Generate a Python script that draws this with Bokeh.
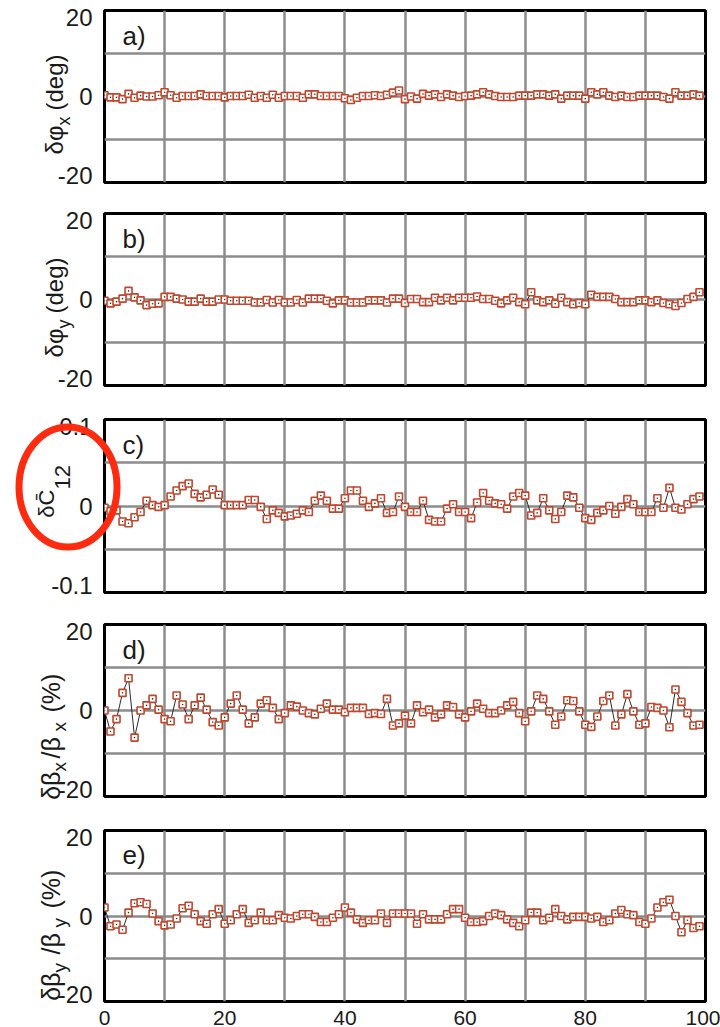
import math
from bokeh.plotting import figure
from bokeh.layouts import column
from bokeh.models import Range1d, FixedTicker, Grid, Label, GridBox
from bokeh.embed import file_html
from bokeh.resources import INLINE

# ---------------- data ----------------
x_index = list(range(100))

dphi_x = [0.3, -0.2, -0.2, -0.6, 0.6, -0.3, 0.2, 0, 0, 0.3,
          1.0, 0.3, -0.3, 0.1, 0.1, 0.1, 0.5, 0.1, 0.1, 0.1,
          -0.2, 0.1, 0.1, 0.1, 0.4, -0.3, 0.1, -0.3, 0.4, -0.3,
          0.1, 0.1, 0.1, -0.3, 0.5, 0.5, 0.1, 0.1, 0.1, 0.1,
          -0.4, -0.8, -0.3, 0.1, 0.1, 0.3, 0.1, 0.4, 0.9, 1.4,
          -0.6, 0, -0.5, 0.6, 0.2, 0.5, -0.1, 0.5, 0.2, -0.1,
          0.1, 0.2, 0.5, 1.0, 0.5, 0.1, -0.1, -0.1, -0.1, 0.2,
          0.2, 0.2, 0.5, 0.5, 0.2, 0.5, -0.5, 0.2, 0.2, 0.2,
          -0.5, 1.0, 0.5, 1.0, 0.2, -0.1, 0.2, -0.1, -0.1, 0.2,
          0.2, 0.2, 0.2, -0.1, -0.5, 1.0, 0.2, 0.2, 0.5, 0.2]

dphi_y = [-0.3, -0.9, -0.5, 0.2, 2.0, 0.5, -0.2, -1.3, -1.0, -0.9,
          0.6, 0.6, 0.2, 0, -0.5, -0.5, 0.2, -0.5, -0.5, 0,
          0, -0.3, -0.3, -0.3, -0.3, -0.7, -0.7, -0.1, -0.7, -0.1,
          -0.7, -0.7, -0.1, -0.7, 0.2, 0.2, 0.2, -0.3, -0.9, -0.2,
          -0.2, -0.7, -0.7, -0.7, -0.2, -0.2, -0.2, -0.7, 0.2, 0.2,
          -0.8, 0.1, 0.1, -0.6, -0.6, 0.4, -0.2, 0.4, -0.2, 0.4,
          0.4, 0.4, 0.7, 0.1, 0.1, -0.3, -0.9, -0.2, 0.4, -0.6,
          -1.1, 1.7, -0.2, -0.6, -0.2, -1.0, 0.4, -0.6, -1.1, -0.8,
          -1.1, 1.1, 0.6, 0.6, 0.6, 0.1, -0.6, -0.6, -0.6, -0.2,
          -0.2, -0.6, -0.2, -0.8, -1.1, -1.5, -0.8, 0.1, 0.6, 1.7]

dc12 = [-0.002, -0.006, -0.005, -0.018, -0.02, -0.013, -0.007, 0.006, 0.001, -0.001,
        0.001, 0.011, 0.018, 0.023, 0.026, 0.014, 0.01, 0.013, 0.019, 0.013,
        0.001, 0.001, 0.001, 0.001, 0.007, 0.007, -0.001, -0.015, -0.005, -0.008,
        -0.012, -0.011, -0.009, -0.005, -0.007, 0.006, 0.012, 0.006, -0.003, -0.003,
        0.009, 0.018, 0.018, 0.006, -0.001, 0.003, 0.009, -0.008, -0.007, 0.011,
        -0.001, -0.007, -0.007, 0.006, -0.016, -0.018, -0.018, -0.003, 0.002, -0.007,
        -0.007, -0.014, 0.004, 0.015, 0.006, 0.003, 0.002, -0.003, 0.011, 0.015,
        0.012, -0.011, -0.008, 0.009, -0.005, -0.015, -0.007, 0.012, 0.01, -0.002,
        -0.014, -0.016, -0.008, -0.005, 0.0, -0.009, -0.001, 0.008, 0.002, -0.007,
        -0.007, -0.007, 0.009, -0.002, 0.021, -0.002, -0.004, 0.002, 0.008, 0.011]

dbeta_x = [0, -4.9, -2, 4.1, 7.5, -6.3, 0, 1.2, 2.7, 0.2,
           -2, -2.5, 3.5, 1.4, -2, 1.2, 3, 0.2, -2.7, -3.5,
           -1.6, 1.6, 3.5, 0.2, -3, -1.6, 1.6, 2.4, 0.6, -2,
           -0.6, 1.2, 0.9, 0, -0.6, -0.9, 0.4, 1.6, 0.2, 0.2,
           -0.4, 0.6, 0.6, 0.6, -0.8, -0.6, -0.8, 2.7, -3.5, -3,
           -1.2, -3, 1.2, -0.4, 0.2, -1.6, -0.9, 1.2, 0.8, -0.9,
           -1.6, -0.2, 1.6, 0.4, -0.6, -0.6, 0, 1.2, 2, -0.6,
           -2.5, -0.2, 3.5, 2.7, -0.2, -3.3, -1.4, 2.4, 2.2, -0.2,
           -3.3, -3.8, -1.4, 2.2, 3.5, -3.5, -0.9, 3.8, -0.2, -3.3,
           -3, 0.8, 0.6, 0, -3.9, 4.9, 2, -0.6, -3.5, -3.3]

dbeta_y = [2.0, -2.4, -2, -3.2, 0.8, 3, 3.2, 2.8, 0.6, -1.2,
           -2.2, -2, -0.6, 1.8, 2.4, 0.4, -1.2, -1.8, 0.4, 1.6,
           -1.8, -1, 0.4, 1.6, -1.6, -1, 0.8, -1, -1, 0.2,
           -0.4, -0.6, 0, 0.4, 0.4, -0.2, -1.4, -1.4, -0.4, 0.4,
           2.0, 0.8, -0.8, -1.6, -1, -1, 0.6, -1.6, 0.6, 0.6,
           0.6, 0.6, -1.8, 0.4, -0.8, -0.8, -0.8, 0.4, 1.6, 1.6,
           -0.4, -1.4, -1.4, -1.2, 0, 0.6, 0.2, -0.8, -1.6, -2.4,
           -1, 0.8, 0.8, -1, -0.4, 1.6, 0, -0.8, -0.2, -0.2,
           -0.2, -0.6, -0.2, -1.4, -1, 0.6, 1.4, 0.4, 0.2, -1.4,
           -1.8, -0.6, 2, 3.2, 3.8, 0, -3.8, -1, -2.8, -2.4]

panel_tags = ["a)", "b)", "c)", "d)", "e)"]
x_tick_values = [0, 20, 40, 60, 80, 100]

# ---------------- style ----------------
FONT = "Liberation Sans"
GRID_C = "#8c8c8c"
MARK_C = "#c0462c"
LEFT, RIGHT_B, W, H = 104, 15, 720, 1027
FRAME_W = W - LEFT - RIGHT_B


def fmt_int(v):
    return ("-%d" % abs(v)) if v < 0 else "%d" % v


def fmt_01(v):
    return ("-%g" % abs(v)) if v < 0 else "%g" % v


def make_panel(vals, ylim, ymajor, fmt, ygrid, height, btop, bbot, show_x, tagtext):
    p = figure(width=W, height=height, x_range=Range1d(0, 100), y_range=Range1d(*ylim),
               output_backend="svg", toolbar_location=None,
               x_axis_location="below" if show_x else None, y_axis_location="left",
               min_border_left=LEFT, min_border_right=RIGHT_B,
               min_border_top=btop, min_border_bottom=bbot)
    for g in p.grid:
        g.visible = False
    p.background_fill_color = "white"
    p.border_fill_color = "white"
    p.outline_line_color = "black"
    p.outline_line_width = 3
    p.outline_line_alpha = 1

    p.add_layout(Grid(dimension=0, ticker=FixedTicker(ticks=list(range(10, 100, 10))),
                      grid_line_color=GRID_C, grid_line_width=2.5))
    p.add_layout(Grid(dimension=1, ticker=FixedTicker(ticks=ygrid),
                      grid_line_color=GRID_C, grid_line_width=2.5))

    fh = height - btop - bbot
    ymin, ymax = ylim
    # end labels sit ~7px inside the frame, as in the reference
    inset = 7 * (ymax - ymin) / fh
    tick_pos = [ymin + inset, 0, ymax - inset]
    ya = p.yaxis[0]
    ya.ticker = FixedTicker(ticks=tick_pos)
    ya.major_label_overrides = {tick_pos[0]: fmt(ymajor[0]), 0: "0",
                                tick_pos[2]: fmt(ymajor[2])}
    ya.major_tick_line_color = None
    ya.minor_tick_line_color = None
    ya.axis_line_color = None
    ya.major_label_text_font = FONT
    ya.major_label_text_font_size = "24px"
    ya.major_label_text_color = "#1a1a1a"
    ya.major_label_standoff = 6

    if show_x:
        xa = p.xaxis[0]
        xa.ticker = FixedTicker(ticks=x_tick_values)
        xa.major_tick_line_color = None
        xa.minor_tick_line_color = None
        xa.axis_line_color = None
        xa.major_label_text_font = FONT
        xa.major_label_text_font_size = "21px"
        xa.major_label_text_color = "#1a1a1a"
        xa.major_label_standoff = 3

    p.line(x_index, vals, line_color="#2b2b2b", line_width=1)
    p.scatter(x_index, vals, marker="square", size=7, line_color=MARK_C, line_width=1.6,
              fill_color="white")
    p.scatter(x_index, vals, marker="circle", size=1.6, line_color=None, fill_color="#333333")

    # panel tag "a)" etc., 25 px below the frame top, near the left edge
    p.add_layout(Label(x=3, y=ymax - 25 * (ymax - ymin) / fh, text=tagtext, text_font=FONT,
                       text_font_size="26px", text_color="#1a1a1a",
                       text_align="left", text_baseline="middle"))
    return p


pa = make_panel(dphi_x, (-20, 20), [-20, 0, 20], fmt_int, [-10, 0, 10], 197, 10, 15, False, panel_tags[0])
pb = make_panel(dphi_y, (-20, 20), [-20, 0, 20], fmt_int, [-10, 0, 10], 205, 16, 17, False, panel_tags[1])
pc = make_panel(dc12, (-0.1, 0.1), [-0.1, 0, 0.1], fmt_01, [-0.05, 0, 0.05], 206, 17, 16, False, panel_tags[2])
pd = make_panel(dbeta_x, (-20, 20), [-20, 0, 20], fmt_int, [-10, 0, 10], 205, 16, 17, False, panel_tags[3])
pe = make_panel(dbeta_y, (-20, 20), [-20, 0, 20], fmt_int, [-10, 0, 10], 214, 17, 25, True, panel_tags[4])

stack = column(pa, pb, pc, pd, pe, spacing=0)

# ---------- transparent overlay (page pixel coordinates) for axis titles ----------
ov = figure(width=W, height=H, x_range=Range1d(0, W), y_range=Range1d(H, 0),
            output_backend="svg", toolbar_location=None,
            x_axis_location=None, y_axis_location=None, min_border=0)
for g in ov.grid:
    g.visible = False
ov.outline_line_color = None
ov.background_fill_color = None
ov.border_fill_color = None


def vlabel(pieces, sx, sy_start):
    """pieces: (text, x_shift_px, font_px, length_px); text reads upward.
    The first piece ends at sy_start, the others start there."""
    sy = sy_start
    for i, (text, shift, size, length) in enumerate(pieces):
        ov.add_layout(Label(x=sx + shift, y=sy, text=text, angle=math.pi / 2,
                            text_font=FONT, text_font_size="%dpx" % size,
                            text_color="#1a1a1a", text_align="right" if i == 0 else "left",
                            text_baseline="middle"))
        if i > 0:
            sy -= length


vlabel([("\u03b4\u03c6", 0, 24, 0), ("x", 9, 18, 15), ("(deg)", 0, 24, 0)], 54, 125)
vlabel([("\u03b4\u03c6", 0, 24, 0), ("y", 9, 18, 15), ("(deg)", 0, 24, 0)], 54, 328)
vlabel([("\u03b4C\u0304", 0, 22, 0), ("12", 16, 22, 0)], 46, 489)
vlabel([("\u03b4\u03b2", 0, 25, 0), ("x", 9, 19, 13), ("/\u03b2", 0, 25, 27),
        ("x", 9, 19, 19), ("(%)", 0, 25, 0)], 50, 771)
vlabel([("\u03b4\u03b2", 0, 25, 0), ("y", 9, 19, 18), ("/\u03b2", 0, 25, 27),
        ("y", 9, 19, 19), ("(%)", 0, 25, 0)], 50, 972)

# red hand-drawn ellipse around the c) label
ov.ellipse(x=[67.5], y=[486.5], width=[98], height=[120], fill_color=None,
           line_color="#fe2b10", line_width=7)

layout = GridBox(children=[(stack, 0, 0), (ov, 0, 0)])
open("out.html", "w").write(file_html(layout, INLINE))
